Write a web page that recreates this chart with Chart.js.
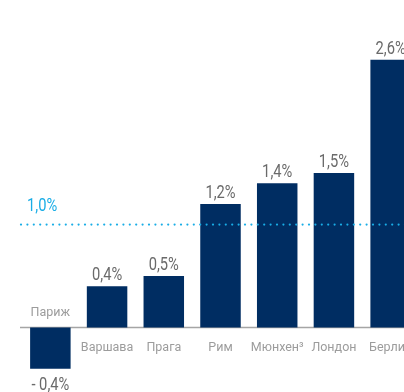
<!DOCTYPE html>
<html>
<head>
<meta charset="utf-8">
<script src="https://cdn.jsdelivr.net/npm/chart.js@4"></script>
<style>
  html, body { margin: 0; padding: 0; background: #fff; overflow: hidden; }
  #wrap { width: 420px; height: 392px; }
</style>
</head>
<body>
<div id="wrap"><canvas id="chart" width="420" height="392"></canvas></div>
<script>
// Рост арендных ставок по городам, %
const cities = ['Париж', 'Варшава', 'Прага', 'Рим', 'Мюнхен³', 'Лондон', 'Берлин'];
const growth = [-0.4, 0.4, 0.5, 1.2, 1.4, 1.5, 2.6];
const average = 1.0;

const NAVY = '#002d62';
const CYAN = '#19ade6';
const VALUE_GREY = '#6a6a6a';
const CAT_GREY = '#9c9c9c';

const fmt = v => (v < 0 ? '- ' : '') + Math.abs(v).toFixed(1).replace('.', ',') + '%';

// узкий шрифт подписей: обычный Roboto, сжатый по горизонтали
function narrowText(ctx, text, x, y, align) {
    const k = 0.84;
    ctx.save();
    ctx.font = '17.5px Roboto';
    ctx.textAlign = align;
    ctx.textBaseline = 'alphabetic';
    ctx.translate(x, y);
    ctx.scale(k, 1);
    ctx.fillText(text, 0, 0);
    ctx.restore();
}

const overlay = {
    id: 'overlay',
    beforeDatasetsDraw(chart) {
        const { ctx, scales: { y } } = chart;
        const zero = y.getPixelForValue(0);
        ctx.save();
        // нулевая линия
        ctx.strokeStyle = '#a5a5a5';
        ctx.lineWidth = 1.5;
        ctx.beginPath();
        ctx.moveTo(20, zero);
        ctx.lineTo(chart.width, zero);
        ctx.stroke();
        ctx.restore();
    },
    afterDatasetsDraw(chart) {
        const { ctx, scales: { y } } = chart;
        const meta = chart.getDatasetMeta(0);
        const zero = y.getPixelForValue(0);
        const avg = y.getPixelForValue(average);
        ctx.save();
        // средний уровень пунктиром поверх столбцов
        ctx.fillStyle = CYAN;
        for (let x = 21; x < chart.width; x += 6.4) {
            ctx.beginPath();
            ctx.arc(x, avg, 1.1, 0, Math.PI * 2);
            ctx.fill();
        }
        narrowText(ctx, fmt(average), 27, avg - 14, 'left');

        meta.data.forEach((bar, i) => {
            const v = growth[i];
            ctx.fillStyle = VALUE_GREY;
            if (v >= 0) {
                narrowText(ctx, fmt(v), bar.x, bar.y - 6, 'center');
            } else {
                narrowText(ctx, fmt(v), bar.x, bar.y + 21, 'center');
            }
            ctx.fillStyle = CAT_GREY;
            ctx.font = '12.5px Roboto';
            ctx.textAlign = 'center';
            ctx.textBaseline = 'middle';
            if (v < 0) {
                ctx.fillText(cities[i], bar.x, zero - 15);
            } else {
                ctx.fillText(cities[i], bar.x, zero + 20);
            }
        });
        ctx.restore();
    }
};

new Chart(document.getElementById('chart').getContext('2d'), {
    type: 'bar',
    data: {
        labels: cities,
        datasets: [{
            data: growth,
            backgroundColor: NAVY,
            borderWidth: 0,
            categoryPercentage: 1,
            barPercentage: 0.714
        }]
    },
    options: {
        responsive: false,
        animation: false,
        layout: { padding: { left: 22, right: 1, top: 0, bottom: 0 } },
        plugins: { legend: { display: false }, tooltip: { enabled: false } },
        scales: {
            x: { display: false },
            y: { display: false, min: -0.626, max: 3.18 }
        }
    },
    plugins: [overlay]
});
</script>
</body>
</html>
